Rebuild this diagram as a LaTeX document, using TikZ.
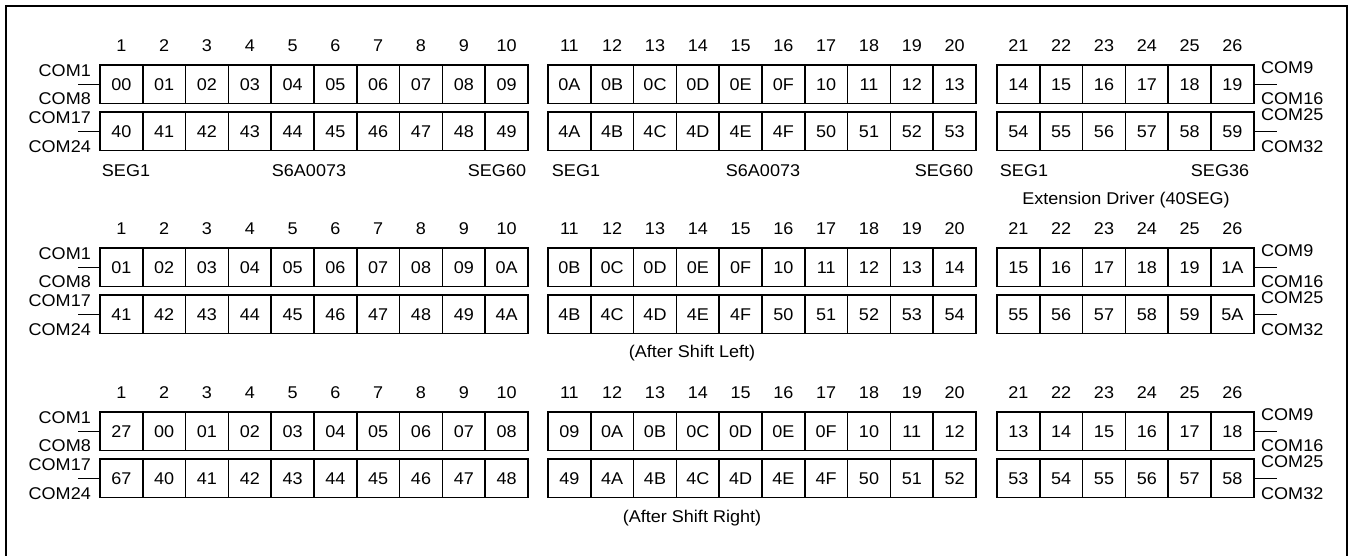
\documentclass[tikz,border=0pt]{standalone}
\usepackage{fontspec}
\setmainfont{Liberation Sans}[FakeStretch=1.06]
\newcommand\sectionrow[4]{%
  % #1 name, #2 top y, #3 top values, #4 bottom values
  \foreach \v [count=\i] in {#3} {
    \pgfmathsetmacro\xx{\i<=10 ? 100+42.8*(\i-1) : (\i<=20 ? 548+42.8*(\i-11) : 997+42.8*(\i-21))}
    \node[cell] (#1t\i) at (\xx,#2) {\v};
    \node[lbl] (#1n\i) at (\xx+21.4,#2-19.5) {\i};
  }
  \foreach \v [count=\i] in {#4} {
    \pgfmathsetmacro\xx{\i<=10 ? 100+42.8*(\i-1) : (\i<=20 ? 548+42.8*(\i-11) : 997+42.8*(\i-21))}
    \node[cell] (#1b\i) at (\xx,#2+47) {\v};
  }
  \node[lbl, anchor=east] (#1com1) at (91,#2+6) {COM1};
  \node[lbl, anchor=east] (#1com8) at (91,#2+34) {COM8};
  \node[lbl, anchor=east] (#1com17) at (91,#2+53) {COM17};
  \node[lbl, anchor=east] (#1com24) at (91,#2+82) {COM24};
  \node[lbl, anchor=west] (#1com9) at (1261,#2+3) {COM9};
  \node[lbl, anchor=west] (#1com16) at (1261,#2+33.5) {COM16};
  \node[lbl, anchor=west] (#1com25) at (1261,#2+50) {COM25};
  \node[lbl, anchor=west] (#1com32) at (1261,#2+82) {COM32};
  \coordinate (#1la) at (78,#2+19.25);
  \coordinate (#1lb) at (78,#2+66.25);
  \coordinate (#1ra) at (1277,#2+19.25);
  \coordinate (#1rb) at (1277,#2+66.25);
  \draw[wire] (#1la) -- (#1t1.west);
  \draw[wire] (#1lb) -- (#1b1.west);
  \draw[wire] (#1t26.east) -- (#1ra);
  \draw[wire] (#1b26.east) -- (#1rb);
}
\begin{document}
\begin{tikzpicture}[x=1pt,y=-1pt,
  cell/.style={draw, line width=1.5pt, minimum width=42.8pt, minimum height=38.5pt,
    inner sep=0pt, outer sep=0pt, anchor=north west, font=\fontsize{17}{19}\selectfont},
  lbl/.style={inner sep=0pt, font=\fontsize{17}{19}\selectfont},
  wire/.style={line width=1.5pt}]
\useasboundingbox (0,0) rectangle (1353,555);
\draw[line width=2pt] (6,565) -- (6,6) -- (1347,6) -- (1347,565);

\sectionrow{a}{65}{00,01,02,03,04,05,06,07,08,09,0A,0B,0C,0D,0E,0F,10,11,12,13,14,15,16,17,18,19}{40,41,42,43,44,45,46,47,48,49,4A,4B,4C,4D,4E,4F,50,51,52,53,54,55,56,57,58,59}
\sectionrow{b}{248}{01,02,03,04,05,06,07,08,09,0A,0B,0C,0D,0E,0F,10,11,12,13,14,15,16,17,18,19,1A}{41,42,43,44,45,46,47,48,49,4A,4B,4C,4D,4E,4F,50,51,52,53,54,55,56,57,58,59,5A}
\sectionrow{c}{412}{27,00,01,02,03,04,05,06,07,08,09,0A,0B,0C,0D,0E,0F,10,11,12,13,14,15,16,17,18}{67,40,41,42,43,44,45,46,47,48,49,4A,4B,4C,4D,4E,4F,50,51,52,53,54,55,56,57,58}

\node[lbl] (seg1a) at (126,171) {SEG1};
\node[lbl] (chipa) at (309,171) {S6A0073};
\node[lbl] (seg60a) at (497,171) {SEG60};
\node[lbl] (seg1b) at (576,171) {SEG1};
\node[lbl] (chipb) at (763,171) {S6A0073};
\node[lbl] (seg60b) at (944,171) {SEG60};
\node[lbl] (seg1c) at (1024,171) {SEG1};
\node[lbl] (seg36c) at (1220,171) {SEG36};
\node[lbl] (ext) at (1126,200) {Extension Driver (40SEG)};
\node[lbl] (shl) at (692,353) {(After Shift Left)};
\node[lbl] (shr) at (692,518) {(After Shift Right)};
\end{tikzpicture}
\end{document}
